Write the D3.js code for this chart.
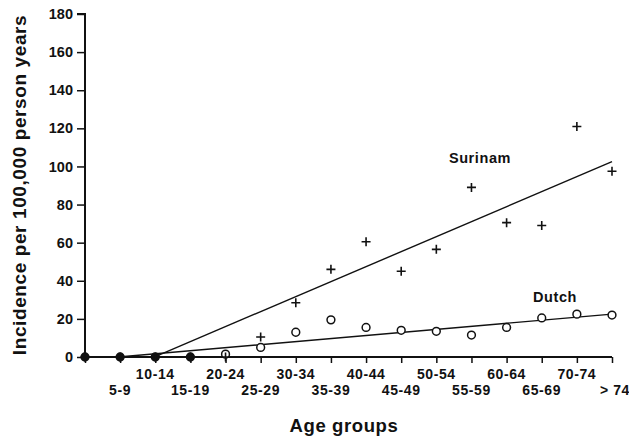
<!DOCTYPE html>
<html>
<head>
<meta charset="utf-8">
<script src="https://cdn.jsdelivr.net/npm/d3@7"></script>
<style>
  body { margin: 0; background: #fff; }
  text { font-family: "Liberation Sans", Arial, sans-serif; font-weight: bold; fill: #111; }
</style>
</head>
<body>
<script>
// age groups along the x axis (first one has no label in the original)
const ageGroups = ['0-4', '5-9', '10-14', '15-19', '20-24', '25-29', '30-34', '35-39',
                   '40-44', '45-49', '50-54', '55-59', '60-64', '65-69', '70-74', '> 74'];
const surinam = [0, 0, 0, 0, 0, 10.5, 28.5, 46, 60.5, 45, 56.5, 89, 70.5, 69, 121, 97.5];
const dutch   = [0, 0, 0, 0, 1.5, 5, 13, 19.5, 15.5, 14, 13.5, 11.5, 15.5, 20.5, 22.5, 22];
// fitted lines: [start index, start value], [end index, end value]
const surinamFit = [[2.1, 1], [15, 102.5]];
const dutchFit   = [[0.95, 0], [15, 22.5]];
const yTicks = [0, 20, 40, 60, 80, 100, 120, 140, 160, 180];

const W = 629, H = 438;
const svg = d3.select('body').append('svg')
  .attr('width', W)
  .attr('height', H);

const x = d3.scaleLinear()
  .domain([0, ageGroups.length - 1])
  .range([85, 612]);

const y = d3.scaleLinear()
  .domain([0, 180])
  .range([357, 14]);

// y axis
const yAxis = svg.append('g')
  .attr('transform', 'translate(85,0)')
  .call(d3.axisLeft(y).tickValues(yTicks).tickSize(8).tickPadding(4));
yAxis.select('.domain').attr('stroke', '#111').attr('stroke-width', 2).attr('d', 'M-8,14H0V357');
yAxis.selectAll('.tick line').attr('stroke', '#111').attr('stroke-width', 1.5);
yAxis.selectAll('.tick text').style('font-size', '14.5px').attr('fill', '#111');

// x axis
const xAxis = svg.append('g')
  .attr('transform', 'translate(0,357)')
  .call(d3.axisBottom(x).tickValues(d3.range(ageGroups.length)).tickSize(6).tickFormat(''));
xAxis.select('.domain').attr('stroke', '#111').attr('stroke-width', 2).attr('d', 'M85,0H612');
xAxis.selectAll('.tick line').attr('stroke', '#111').attr('stroke-width', 1.5);

// age labels, alternating rows
svg.append('g').selectAll('text')
  .data(ageGroups)
  .enter().append('text')
    .filter(function(d, i) { return i > 0; })
    .attr('x', function(d, i) { return x(ageGroups.indexOf(d)) + (d === '> 74' ? 3 : 0); })
    .attr('y', function(d) { return ageGroups.indexOf(d) % 2 === 0 ? 379 : 395; })
    .attr('text-anchor', 'middle')
    .style('font-size', '14px')
    .style('letter-spacing', '0.6px')
    .text(function(d) { return d; });

// fitted lines
const line = d3.line()
  .x(function(d) { return x(d[0]); })
  .y(function(d) { return y(d[1]); });

[surinamFit, dutchFit].forEach(function(f) {
  svg.append('path')
    .datum(f)
    .attr('d', line)
    .attr('fill', 'none')
    .attr('stroke', '#111')
    .attr('stroke-width', 1.4);
});

// Dutch circles
svg.selectAll('.dot')
  .data(dutch)
  .enter().append('circle')
    .attr('class', 'dot')
    .attr('cx', function(d, i) { return x(i); })
    .attr('cy', function(d) { return y(d); })
    .attr('r', 3.9)
    .attr('fill', function(d) { return d === 0 ? '#111' : '#fff'; })
    .attr('stroke', '#111')
    .attr('stroke-width', 1.5);

// Surinam crosses
svg.selectAll('.plus')
  .data(surinam)
  .enter().append('path')
    .attr('class', 'plus')
    .attr('transform', function(d, i) { return 'translate(' + x(i) + ',' + y(d) + ')'; })
    .attr('d', 'M-4.5,0H4.5M0,-4.5V4.5')
    .attr('stroke', '#111')
    .attr('stroke-width', 1.6);

// series labels
svg.append('text').attr('x', 480).attr('y', 163).attr('text-anchor', 'middle')
  .style('font-size', '14.5px').style('letter-spacing', '0.6px').text('Surinam');
svg.append('text').attr('x', 555).attr('y', 302).attr('text-anchor', 'middle')
  .style('font-size', '14.5px').style('letter-spacing', '0.6px').text('Dutch');

// axis titles
svg.append('text')
  .attr('x', 344).attr('y', 432)
  .attr('text-anchor', 'middle')
  .style('font-size', '18.5px')
  .style('letter-spacing', '0.6px')
  .text('Age groups');

svg.append('text')
  .attr('transform', 'translate(26,185) rotate(-90)')
  .attr('text-anchor', 'middle')
  .style('font-size', '19px')
  .style('letter-spacing', '0.6px')
  .text('Incidence per 100,000 person years');
</script>
</body>
</html>
